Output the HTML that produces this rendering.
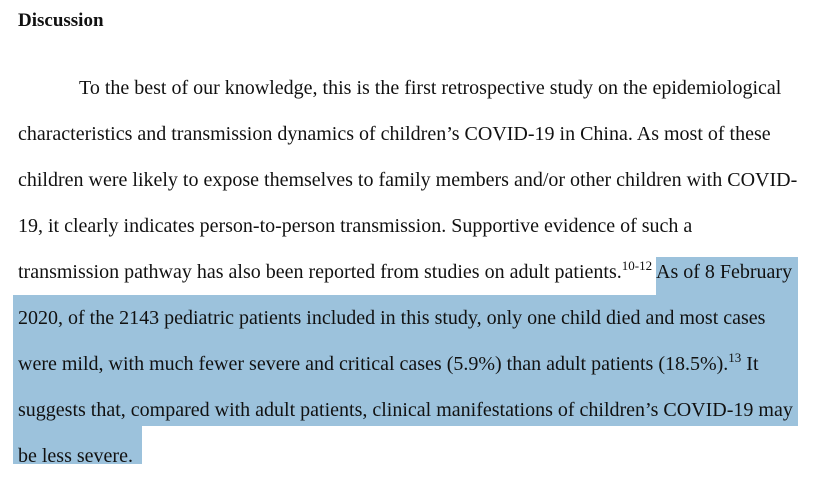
<!DOCTYPE html>
<html>
<head>
<meta charset="utf-8">
<style>
  html,body{margin:0;padding:0;background:#fff;}
  body{width:821px;height:478px;position:relative;overflow:hidden;
    font-family:"Liberation Serif","Times New Roman",serif;color:#111;}
  .hl{position:absolute;background:#9cc2dc;}
  .ln{position:absolute;left:18px;font-size:20px;line-height:24px;white-space:nowrap;}
  sup{font-size:13px;vertical-align:0;position:relative;top:-8px;}
  h1{position:absolute;left:18px;top:9px;margin:0;font-size:19px;line-height:24px;font-weight:bold;}
</style>
</head>
<body>
<div class="hl" style="left:656px;top:257px;width:142px;height:38px;"></div>
<div class="hl" style="left:13px;top:295px;width:785px;height:131px;"></div>
<div class="hl" style="left:13px;top:426px;width:129px;height:38px;"></div>

<h1>Discussion</h1>
<div class="ln" style="left:79px;top:76px;">To the best of our knowledge, this is the first retrospective study on the epidemiological</div>
<div class="ln" style="top:122px;">characteristics and transmission dynamics of children’s COVID-19 in China. As most of these</div>
<div class="ln" style="top:168px;">children were likely to expose themselves to family members and/or other children with COVID-</div>
<div class="ln" style="top:214px;">19, it clearly indicates person-to-person transmission. Supportive evidence of such a</div>
<div class="ln" style="top:260px;">transmission pathway has also been reported from studies on adult patients.<sup>10-12</sup> As of 8 February</div>
<div class="ln" style="top:306px;">2020, of the 2143 pediatric patients included in this study, only one child died and most cases</div>
<div class="ln" style="top:352px;">were mild, with much fewer severe and critical cases (5.9%) than adult patients (18.5%).<sup>13</sup> It</div>
<div class="ln" style="top:398px;">suggests that, compared with adult patients, clinical manifestations of children’s COVID-19 may</div>
<div class="ln" style="top:444px;">be less severe.</div>
</body>
</html>
